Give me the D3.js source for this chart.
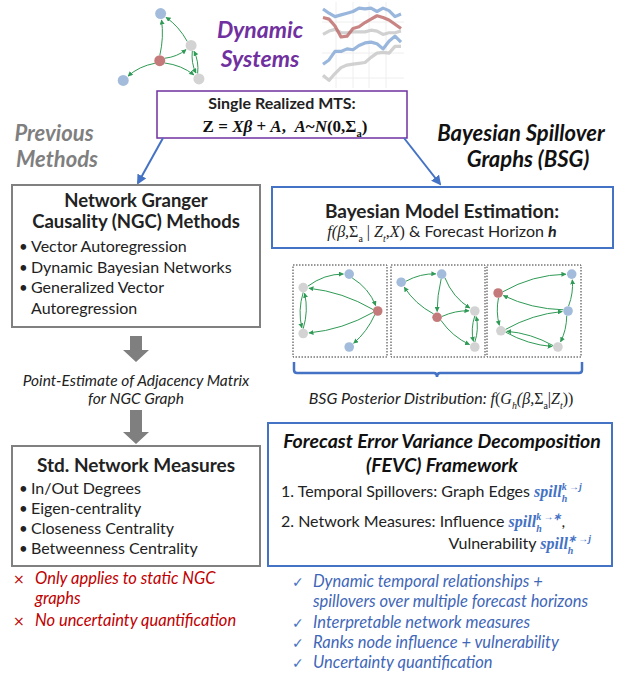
<!DOCTYPE html>
<html><head><meta charset="utf-8">
<script src="https://cdn.jsdelivr.net/npm/d3@7"></script>
<style>body{margin:0;background:#fff} text{white-space:pre}</style>
</head><body><div id="fig"></div>
<script>
// little MTS sketch (values on a 0..100 scale)
var tsBlueTop=[93,88,84,86,88,90,94,93,94,90,94,91,84,87]
var tsRed=[83,81,73,60,61,70,72,77,81,85,83,80,75,70]
var tsGreyMid=[63,67,69,65,65,66,66,66,68,67,63,65,65,67]
var tsBlueLow=[28,33,43,43,46,45,50,53,54,52,46,55,61,54]
var tsGreyLow=[15,9,17,24,27,28,29,30,36,41,42,41,49,49]

// graphs: node kind + position inside its panel (0..1), edges [from,to,bend]
var topNodes=[["b",0.49,0.06],["r",0.48,0.68],["g",0.84,0.48],["g",0.93,0.92],["b",0.06,0.94]]
var topEdges=[[1,0,0.08],[2,0,0.1],[1,2,0.12],[1,3,-0.12],[2,3,0.12],[3,2,0.12],[1,4,0.12]]
var p1Nodes=[["g",0.10,0.24],["b",0.60,0.09],["r",0.91,0.50],["g",0.10,0.75],["b",0.60,0.90]]
var p1Edges=[[0,1,-0.15],[2,0,0.1],[1,2,-0.15],[0,3,0.12],[3,0,0.12],[2,3,-0.1],[2,4,-0.1]]
var p2Nodes=[["b",0.10,0.18],["b",0.54,0.09],["r",0.49,0.57],["g",0.90,0.50],["g",0.90,0.90]]
var p2Edges=[[0,1,-0.12],[2,0,-0.12],[1,2,0.05],[1,3,0.15],[2,3,-0.1],[2,4,0.12],[3,4,0.12],[4,3,0.12]]
var p3Nodes=[["r",0.11,0.30],["b",0.91,0.09],["b",0.87,0.50],["g",0.14,0.72],["g",0.76,0.90]]
var p3Edges=[[0,1,-0.12],[2,0,-0.1],[0,3,0.1],[2,1,0.1],[3,2,-0.1],[3,4,0.1],[4,3,0.1],[2,4,-0.1]]

var ngcTitle=["Network Granger","Causality (NGC) Methods"]
var ngcItems=["Vector Autoregression","Dynamic Bayesian Networks","Generalized Vector","Autoregression"]
var stdItems=["In/Out Degrees","Eigen-centrality","Closeness Centrality","Betweenness Centrality"]
var cons=[["×","Only applies to static NGC"],["","graphs"],["×","No uncertainty quantification"]]
var pros=[["✓","Dynamic temporal relationships +"],["","spillovers over multiple forecast horizons"],
  ["✓","Interpretable network measures"],["✓","Ranks node influence + vulnerability"],["✓","Uncertainty quantification"]]

var width=622,height=677
var sans="Lato",serif="Liberation Serif"
var blue="#4472c4",green="#2f9a55"
var nodeFill={b:"#a3bcdc",r:"#c47a7a",g:"#d3d3d3"}

var svg=d3.select("#fig").append("svg").attr("width",width).attr("height",height)
var defs=svg.append("defs")
defs.append("marker").attr("id","ga").attr("viewBox","0 0 10 10").attr("refX",9).attr("refY",5)
  .attr("markerWidth",5).attr("markerHeight",5).attr("markerUnits","userSpaceOnUse").attr("orient","auto")
  .append("path").attr("d","M0,0L10,5L0,10z").attr("fill",green)
defs.append("marker").attr("id","ba").attr("viewBox","0 0 10 10").attr("refX",8).attr("refY",5)
  .attr("markerWidth",10).attr("markerHeight",10).attr("markerUnits","userSpaceOnUse").attr("orient","auto")
  .append("path").attr("d","M0,0L10,5L0,10z").attr("fill",blue)

// one piece of text; returns its width
function seg(g,s,x,y,base){
  var t=g.append("text").attr("x",x).attr("y",y+(s.dy||0)).attr("xml:space","preserve")
    .attr("font-family",s.f||base.f).attr("font-size",(s.s||1)*base.s)
    .attr("font-weight",s.b?"bold":"normal").attr("font-style",s.i?"italic":"normal")
    .attr("fill",s.c||base.c).text(s.t)
  return t.node().getComputedTextLength()
}
// a line of mixed pieces, with stacked sub/superscripts
function rich(x,y,parts,base,anchor){
  var grp=svg.append("g"),cx=0
  parts.forEach(function(p){
    var w=seg(grp,p,cx,0,base)
    if(p.sub||p.sup){
      var w1=p.sub?seg(grp,Object.assign({},p,{t:p.sub,s:0.62,dy:base.s*0.3}),cx+w,0,base):0
      var w2=p.sup?seg(grp,Object.assign({},p,{t:p.sup,s:0.62,dy:-base.s*0.42}),cx+w,0,base):0
      w+=Math.max(w1,w2)
    }
    cx+=w
  })
  var off=anchor=="middle"?-cx/2:anchor=="end"?-cx:0
  grp.attr("transform","translate("+(x+off)+","+y+")")
}
function label(x,y,txt,size,opt){
  opt=opt||{}
  return svg.append("text").attr("x",x).attr("y",y).text(txt)
    .attr("font-family",opt.f||sans).attr("font-size",size)
    .attr("font-weight",opt.b?"bold":"normal").attr("font-style",opt.i?"italic":"normal")
    .attr("fill",opt.c||"#222").attr("text-anchor",opt.a||"start")
}
function box(x0,y0,x1,y1,stroke,sw,dash){
  return svg.append("rect").attr("x",x0).attr("y",y0).attr("width",x1-x0).attr("height",y1-y0)
    .attr("fill","none").attr("stroke",stroke).attr("stroke-width",sw).attr("stroke-dasharray",dash||null)
}

// network drawing in a panel
function graph(nodes,edges,x0,y0,x1,y1,r){
  var xs=d3.scaleLinear().domain([0,1]).range([x0,x1])
  var ys=d3.scaleLinear().domain([0,1]).range([y0,y1])
  var g=svg.append("g")
  g.selectAll("path").data(edges).enter().append("path")
    .attr("d",function(e){
      var a=nodes[e[0]],b=nodes[e[1]]
      var ax=xs(a[1]),ay=ys(a[2]),bx=xs(b[1]),by=ys(b[2])
      var dx=bx-ax,dy=by-ay,L=Math.sqrt(dx*dx+dy*dy),ux=dx/L,uy=dy/L
      var cx=(ax+bx)/2-uy*e[2]*L,cy=(ay+by)/2+ux*e[2]*L
      var sx=ax+ux*r,sy=ay+uy*r
      var ex=cx-bx,ey=cy-by,el=Math.sqrt(ex*ex+ey*ey)
      var tx=bx+ex/el*(r+1),ty=by+ey/el*(r+1)
      return "M"+sx+","+sy+"Q"+cx+","+cy+" "+tx+","+ty
    })
    .attr("fill","none").attr("stroke",green).attr("stroke-width",1).attr("marker-end","url(#ga)")
  g.selectAll("circle").data(nodes).enter().append("circle")
    .attr("cx",function(d){return xs(d[1])}).attr("cy",function(d){return ys(d[2])})
    .attr("r",r).attr("fill",function(d){return nodeFill[d[0]]})
}

// ---- top: network, title, time series
graph(topNodes,topEdges,118,9,205,85,5.5)
label(260,38,"Dynamic",23,{b:1,i:1,c:"#7030a0",a:"middle"})
label(260,67,"Systems",23,{b:1,i:1,c:"#7030a0",a:"middle"})

var tx=d3.scaleLinear().domain([0,tsRed.length-1]).range([323,401])
var ty=d3.scaleLinear().domain([0,100]).range([88,3])
;[336,353,369,386].forEach(function(x){
  svg.append("line").attr("x1",x).attr("x2",x).attr("y1",2).attr("y2",88).attr("stroke","#eeeeee")})
;[22,53,78].forEach(function(y){
  svg.append("line").attr("x1",322).attr("x2",404).attr("y1",y).attr("y2",y).attr("stroke","#eeeeee")})
var line=d3.line().x(function(d,i){return tx(i)}).y(function(d){return ty(d)}).curve(d3.curveLinear)
;[[tsGreyLow,"#c9c9c9"],[tsBlueLow,"#87a9d6"],[tsGreyMid,"#c9c9c9"],[tsRed,"#bf6f6f"],[tsBlueTop,"#87a9d6"]]
.forEach(function(s){
  svg.append("path").attr("d",line(s[0])).attr("fill","none").attr("stroke",s[1])
    .attr("stroke-width",3.2).attr("stroke-linejoin","round").attr("opacity",0.85)
})

// MTS box
svg.append("rect").attr("x",157).attr("y",91).attr("width",250).attr("height",47)
  .attr("fill","#fff").attr("stroke","#7030a0").attr("stroke-width",1.5)
label(282,109,"Single Realized MTS:",16,{b:1,a:"middle"})
rich(285,132,[{t:"Z = ",b:1},{t:"Xβ",b:1,i:1},{t:" + ",b:1},{t:"A",b:1,i:1},{t:",  ",b:1},{t:"A",b:1,i:1},
  {t:"~",b:1},{t:"N",b:1,i:1},{t:"(0,",b:1},{t:"Σ",b:1,sub:"a"},{t:")",b:1}],{f:serif,s:17,c:"#111"},"middle")

// blue arrows
svg.append("line").attr("x1",163).attr("y1",138).attr("x2",138).attr("y2",183)
  .attr("stroke",blue).attr("stroke-width",2).attr("marker-end","url(#ba)")
svg.append("line").attr("x1",404).attr("y1",138).attr("x2",440).attr("y2",184)
  .attr("stroke",blue).attr("stroke-width",2).attr("marker-end","url(#ba)")

label(54,141,"Previous",22,{b:1,i:1,c:"#7f7f7f",a:"middle"})
label(57,167,"Methods",22,{b:1,i:1,c:"#7f7f7f",a:"middle"})
label(521,141,"Bayesian Spillover",22,{b:1,i:1,c:"#111",a:"middle"})
label(528,167,"Graphs (BSG)",22,{b:1,i:1,c:"#111",a:"middle"})

// ---- left column
box(12,185,260,327,"#808080",2)
ngcTitle.forEach(function(t,i){label(136,207+i*21,t,18.5,{b:1,a:"middle"})})
ngcItems.forEach(function(t,i){
  if(i<3) label(19,252+i*20.5,"•",15,{c:"#222"})
  label(31,252+i*20.5,t,16,{c:"#222"})
})

function fatArrow(cx,y0,y1){
  var hw=6,hh=13,hl=12
  svg.append("path").attr("d","M"+(cx-hw)+","+y0+"H"+(cx+hw)+"V"+(y1-hl)+"H"+(cx+hh)+"L"+cx+","+y1+
    "L"+(cx-hh)+","+(y1-hl)+"H"+(cx-hw)+"Z").attr("fill","#7f7f7f")
}
fatArrow(136,336,362)
label(136,386,"Point-Estimate of Adjacency Matrix",15.5,{i:1,a:"middle"})
label(136,404,"for NGC Graph",15.5,{i:1,a:"middle"})
fatArrow(136,410,444)

box(12,446,260,566,"#808080",2)
label(136,472,"Std. Network Measures",19,{b:1,a:"middle"})
stdItems.forEach(function(t,i){
  label(19,494+i*20,"•",15,{c:"#222"})
  label(31,494+i*20,t,16,{c:"#222"})
})
cons.forEach(function(c,i){
  var y=584+i*20+(i==2?2:0)
  label(13,y,c[0],14,{c:"#c00000",f:"DejaVu Sans"})
  label(35,y,c[1],16.5,{i:1,c:"#c00000"})
})

// ---- right column
box(272,187,613,248,blue,2)
label(442,218,"Bayesian Model Estimation:",19,{b:1,a:"middle"})
rich(442,237,[{t:"f",i:1,f:serif},{t:"(β,",i:1,f:serif},{t:"Σ",f:serif,sub:"a"},{t:" | ",f:serif},
  {t:"Z",i:1,f:serif,sub:"t"},{t:",",f:serif},{t:"X",i:1,f:serif},{t:")",f:serif},
  {t:" & Forecast Horizon "},{t:"h",b:1,i:1}],{f:sans,s:16,c:"#222"},"middle")

var panels=[[p1Nodes,p1Edges,293],[p2Nodes,p2Edges,391],[p3Nodes,p3Edges,487]]
panels.forEach(function(p){
  box(p[2],265,p[2]+94,357,"#333",1,"1.5,1.5")
  graph(p[0],p[1],p[2]+1,266,p[2]+93,356,4.8)
})
svg.append("path").attr("d","M294,362V370Q294,373 297,373H434Q437,373 437,377Q437,373 440,373H579Q582,373 582,370V362")
  .attr("fill","none").attr("stroke",blue).attr("stroke-width",2.5)
rich(441,404,[{t:"BSG Posterior Distribution: ",i:1},{t:"f",i:1,f:serif},{t:"(",f:serif},
  {t:"G",i:1,f:serif,sub:"h"},{t:"(β,",i:1,f:serif},{t:"Σ",f:serif,sub:"a"},{t:"|",f:serif},
  {t:"Z",i:1,f:serif,sub:"t"},{t:"))",f:serif}],{f:sans,s:16,c:"#222"},"middle")

box(268,423,612,566,blue,2)
label(442,448,"Forecast Error Variance Decomposition",19.5,{b:1,i:1,a:"middle",c:"#111"})
label(442,472,"(FEVC) Framework",19.5,{b:1,i:1,a:"middle",c:"#111"})
var spill=function(sup){return {t:"spill",b:1,i:1,f:serif,c:blue,sub:"h",sup:sup}}
rich(281,497,[{t:"1. Temporal Spillovers: Graph Edges "},spill("k →j")],{f:sans,s:16,c:"#222"},"start")
rich(281,527,[{t:"2. Network Measures: Influence "},spill("k →∗"),{t:","}],{f:sans,s:16,c:"#222"},"start")
rich(591,549,[{t:"Vulnerability "},spill("∗ →j")],{f:sans,s:16,c:"#222"},"end")

pros.forEach(function(p,i){
  var y=587+i*20.3
  label(292,y,p[0],14,{c:blue,f:"DejaVu Sans"})
  label(313,y,p[1],16.5,{i:1,c:"#3f67b8"})
})
</script></body></html>
